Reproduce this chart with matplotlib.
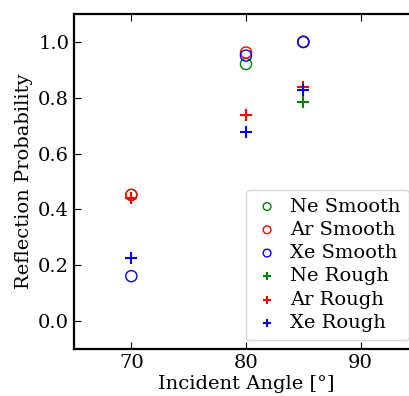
import matplotlib.pyplot as plt
import numpy as np

plt.rcParams['font.family'] = 'DejaVu Serif'
plt.rcParams['font.size'] = 14

# Incident angles (deg)
angles = [70, 80, 85]

# Smooth surface reflection probability
ne_smooth = [0.452, 0.921, 1.0]
ar_smooth = [0.452, 0.962, 1.0]
xe_smooth = [0.161, 0.951, 1.0]

# Rough surface reflection probability
ne_rough = [0.44, 0.738, 0.785]
ar_rough = [0.44, 0.738, 0.840]
xe_rough = [0.226, 0.676, 0.828]

fig = plt.figure(figsize=(4.09, 3.96), dpi=100)
ax = fig.add_axes([74 / 409, 47 / 396, 344 / 409, 335 / 396])

ax.scatter(angles, ne_smooth, s=64, facecolors='none', edgecolors='g', label='Ne Smooth')
ax.scatter(angles, ar_smooth, s=64, facecolors='none', edgecolors='r', label='Ar Smooth')
ax.scatter(angles, xe_smooth, s=64, facecolors='none', edgecolors='b', label='Xe Smooth')
ax.scatter(angles, ne_rough, s=64, marker='+', color='g', label='Ne Rough')
ax.scatter(angles, ar_rough, s=64, marker='+', color='r', label='Ar Rough')
ax.scatter(angles, xe_rough, s=64, marker='+', color='b', label='Xe Rough')

ax.set_xlim(65, 95)
ax.set_ylim(-0.1, 1.1)
ax.set_xticks([70, 80, 90])
ax.set_yticks(np.arange(0, 1.01, 0.2))
ax.set_xlabel('Incident Angle [°]', labelpad=2)
ax.set_ylabel('Reflection Probability')
ax.tick_params(direction='in', top=True, right=True, length=5)
for sp in ax.spines.values():
    sp.set_linewidth(1.6)

ax.legend(loc='lower right', fontsize=14, markerscale=0.7, labelspacing=0.27,
          handlelength=1.4, handletextpad=0.5, borderaxespad=0.48)

fig.savefig('out.png', dpi=100)
